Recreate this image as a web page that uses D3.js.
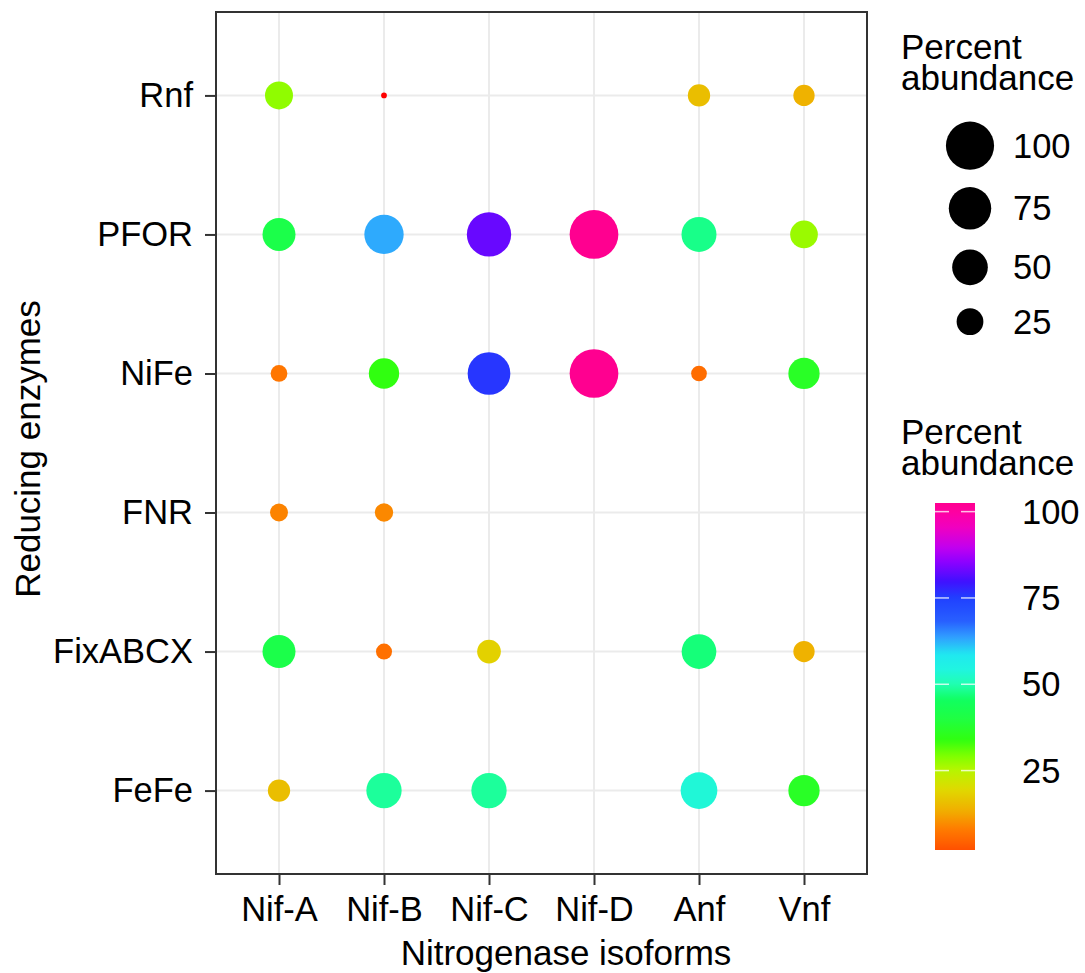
<!DOCTYPE html>
<html>
<head>
<meta charset="utf-8">
<script src="https://cdn.jsdelivr.net/npm/d3@7"></script>
<style>
  body { margin: 0; background: #fff; }
  text { font-family: "Liberation Sans", Arial, sans-serif; }
</style>
</head>
<body>
<div id="chart"></div>
<script>
// categories
const isoforms = ["Nif-A", "Nif-B", "Nif-C", "Nif-D", "Anf", "Vnf"];
const enzymes = ["Rnf", "PFOR", "NiFe", "FNR", "FixABCX", "FeFe"];

// percent abundance per enzyme (rows) and isoform (columns); null = no point
const rnf     = [27.9, 0.5, null, null, 15.7, 13.9];
const pfor    = [41.6, 62.8, 82.7, 102.5, 47.8, 27.2];
const nife    = [7.2, 33.9, 76.0, 102.5, 6.0, 36.6];
const fnr     = [8.8, 9.3, null, null, null, null];
const fixabcx = [41.6, 6.4, 18.4, null, 46.9, 13.9];
const fefe    = [15.7, 48.8, 48.8, null, 53.5, 36.6];
const abundance = [rnf, pfor, nife, fnr, fixabcx, fefe];

// legend breaks
const sizeBreaks = [100, 75, 50, 25];
const colorBreaks = [100, 75, 50, 25];

// colour gradient stops
const stopValues = [0.5, 2.0, 7.8, 13.6, 19.4, 25, 29.1, 33.9, 39.7, 45.5, 50, 54.3, 58.6, 63.5, 68.2, 75, 79.8, 85.6, 89.5, 95.4, 100, 102.5];
const stopColors = ["#FF0000", "#FF5000", "#FF7A00", "#F0B000", "#E0D800", "#B8F500", "#80FF00", "#30FF10", "#20FF40", "#10FF60", "#20FFB0", "#20F5E0", "#20E8F0", "#30A0FF", "#2860FF", "#2040FF", "#4010FF", "#9000FF", "#C000F0", "#F000C0", "#FF00A0", "#FF0090"];

function drawChart() {
    let data = [];
    enzymes.forEach(function(e, i) {
        isoforms.forEach(function(iso, j) {
            if (abundance[i][j] !== null) {
                data.push({enzyme: e, isoform: iso, value: abundance[i][j]});
            }
        });
    });

    let W = 1085, H = 973;
    let pLeft = 216, pRight = 867, pTop = 12, pBottom = 874;
    let font = "34.5px";

    let svg = d3.select("#chart").append("svg")
        .attr("width", W)
        .attr("height", H);

    let xScale = d3.scalePoint().domain(isoforms).range([pLeft, pRight]).padding(0.6);
    let yScale = d3.scalePoint().domain(enzymes).range([pTop, pBottom]).padding(0.6);

    let vMin = d3.min(data, d => d.value);
    let vMax = d3.max(data, d => d.value);
    // ggplot-like area scale: diameter linear in sqrt of rescaled value
    let norm = d3.scaleLinear().domain([vMin, vMax]).range([0, 1]).clamp(true);
    let diam = d3.scaleLinear().domain([0, 1]).range([5.7, 48.7]);
    function radius(v) { return diam(Math.sqrt(norm(v))) / 2; }

    let color = d3.scaleLinear().domain(stopValues).range(stopColors).interpolate(d3.interpolateRgb).clamp(true);

    // grid
    svg.append("g").selectAll("line").data(isoforms).enter().append("line")
        .attr("x1", d => xScale(d)).attr("x2", d => xScale(d))
        .attr("y1", pTop).attr("y2", pBottom)
        .style("stroke", "#EBEBEB").style("stroke-width", 2);
    svg.append("g").selectAll("line").data(enzymes).enter().append("line")
        .attr("y1", d => yScale(d)).attr("y2", d => yScale(d))
        .attr("x1", pLeft).attr("x2", pRight)
        .style("stroke", "#EBEBEB").style("stroke-width", 2);

    // points
    svg.append("g").selectAll("circle").data(data).enter().append("circle")
        .attr("cx", d => xScale(d.isoform))
        .attr("cy", d => yScale(d.enzyme))
        .attr("r", d => radius(d.value))
        .style("fill", d => color(d.value));

    // panel border
    svg.append("rect")
        .attr("x", pLeft).attr("y", pTop)
        .attr("width", pRight - pLeft).attr("height", pBottom - pTop)
        .style("fill", "none").style("stroke", "#333333").style("stroke-width", 2);

    // axes
    let xAxis = svg.append("g").attr("transform", "translate(0," + pBottom + ")")
        .call(d3.axisBottom(xScale).tickSize(11).tickPadding(12));
    let yAxis = svg.append("g").attr("transform", "translate(" + pLeft + ",0)")
        .call(d3.axisLeft(yScale).tickSize(11).tickPadding(12));
    [xAxis, yAxis].forEach(function(a) {
        a.select(".domain").remove();
        a.selectAll(".tick line").style("stroke", "#333333").style("stroke-width", 2);
        a.selectAll(".tick text")
            .style("font-size", font)
            .style("font-family", "'Liberation Sans', Arial, sans-serif")
            .style("fill", "#000");
    });

    // axis titles
    svg.append("text")
        .attr("x", 566).attr("y", 965)
        .attr("text-anchor", "middle")
        .style("font-size", "35px")
        .text("Nitrogenase isoforms");

    svg.append("text")
        .attr("transform", "translate(40," + ((pTop + pBottom) / 2 + 6) + ") rotate(-90)")
        .attr("text-anchor", "middle")
        .style("font-size", "35px")
        .text("Reducing enzymes");

    // size legend
    let sizeLegend = svg.append("g");
    sizeLegend.append("text").attr("x", 901).attr("y", 59).style("font-size", "35px").text("Percent");
    sizeLegend.append("text").attr("x", 901).attr("y", 90).style("font-size", "35px").text("abundance");
    let sizeY = [145.7, 208.3, 267.3, 321.7];
    sizeBreaks.forEach(function(b, i) {
        sizeLegend.append("circle")
            .attr("cx", 970).attr("cy", sizeY[i])
            .attr("r", radius(b))
            .style("fill", "#000");
        sizeLegend.append("text")
            .attr("x", 1013).attr("y", sizeY[i] + 12)
            .style("font-size", font)
            .text(b);
    });

    // colour legend
    let colorLegend = svg.append("g");
    colorLegend.append("text").attr("x", 901).attr("y", 444).style("font-size", "35px").text("Percent");
    colorLegend.append("text").attr("x", 901).attr("y", 475).style("font-size", "35px").text("abundance");

    let cMin = 2.0, cMax = 102.5;
    let barX = 935, barW = 40, barTop = 503, barBottom = 850;
    let barScale = d3.scaleLinear().domain([cMin, cMax]).range([barBottom, barTop]);

    let defs = svg.append("defs");
    let grad = defs.append("linearGradient")
        .attr("id", "cbar")
        .attr("x1", "0").attr("y1", "1").attr("x2", "0").attr("y2", "0");
    d3.range(0, 101).forEach(function(k) {
        let v = cMin + (cMax - cMin) * k / 100;
        grad.append("stop").attr("offset", k + "%").attr("stop-color", color(v));
    });
    colorLegend.append("rect")
        .attr("x", barX).attr("y", barTop)
        .attr("width", barW).attr("height", barBottom - barTop)
        .style("fill", "url(#cbar)");

    colorBreaks.forEach(function(b) {
        let y = barScale(b);
        colorLegend.append("line")
            .attr("x1", barX).attr("x2", barX + 14).attr("y1", y).attr("y2", y)
            .style("stroke", "#fff").style("stroke-opacity", 0.75).style("stroke-width", 1.5);
        colorLegend.append("line")
            .attr("x1", barX + barW - 14).attr("x2", barX + barW).attr("y1", y).attr("y2", y)
            .style("stroke", "#fff").style("stroke-opacity", 0.75).style("stroke-width", 1.5);
        colorLegend.append("text")
            .attr("x", 1022).attr("y", y + 12)
            .style("font-size", font)
            .text(b);
    });
}

drawChart();
</script>
</body>
</html>
